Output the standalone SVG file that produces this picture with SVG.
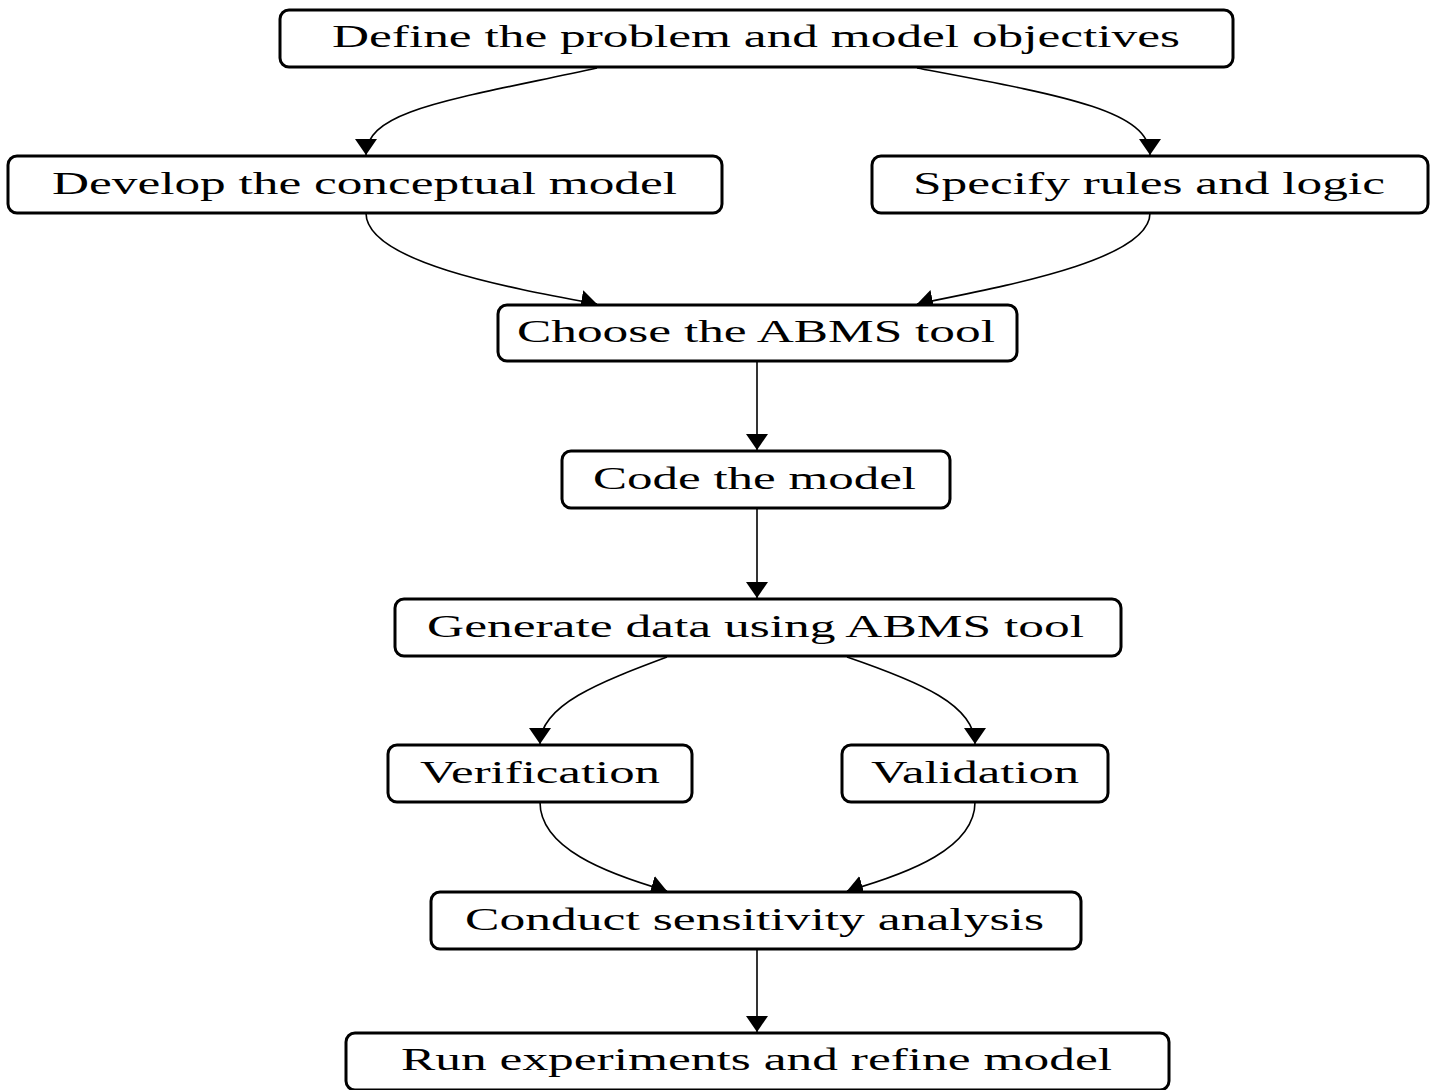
<svg xmlns="http://www.w3.org/2000/svg" width="1435" height="1090" viewBox="0 0 1435 1090">
<style>
.box{fill:#fff;stroke:#000;stroke-width:3}
.lbl{font-family:"Liberation Serif","Times New Roman",serif;font-size:31px;fill:#000}
.edge{fill:none;stroke:#000;stroke-width:1.6}
</style>
<defs>
<marker id="arr" markerUnits="userSpaceOnUse" viewBox="0 0 16 22" refX="16" refY="11" markerWidth="16" markerHeight="22" orient="auto">
<path d="M0,0 L16,11 L0,22 Z" fill="#000"/>
</marker>
</defs>
<rect width="1435" height="1090" fill="#fff"/>
<g id="connectors">
<path class="edge" marker-end="url(#arr)" d="M597,68 C450,100 366,110 366,155"/>
<path class="edge" marker-end="url(#arr)" d="M917,68 C1060,95 1150,110 1150,155"/>
<path class="edge" marker-end="url(#arr)" d="M366,213 C366,262 510,288 597,304"/>
<path class="edge" marker-end="url(#arr)" d="M1150,213 C1150,260 1005,286 917,304"/>
<path class="edge" marker-end="url(#arr)" d="M757,361 L757,450"/>
<path class="edge" marker-end="url(#arr)" d="M757,508 L757,598"/>
<path class="edge" marker-end="url(#arr)" d="M667,657 C600,682 540,705 540,744"/>
<path class="edge" marker-end="url(#arr)" d="M847,657 C920,682 975,705 975,744"/>
<path class="edge" marker-end="url(#arr)" d="M540,802 C540,848 605,873 667,891"/>
<path class="edge" marker-end="url(#arr)" d="M975,802 C975,848 910,873 847,891"/>
<path class="edge" marker-end="url(#arr)" d="M757,949 L757,1032"/>
</g>
<g id="n1"><rect class="box" x="280" y="10" width="953" height="57" rx="9"/><text class="lbl" x="332" y="47" textLength="848" lengthAdjust="spacingAndGlyphs">Define the problem and model objectives</text></g>
<g id="n2"><rect class="box" x="8" y="156" width="714" height="57" rx="9"/><text class="lbl" x="52" y="194" textLength="625" lengthAdjust="spacingAndGlyphs">Develop the conceptual model</text></g>
<g id="n3"><rect class="box" x="872" y="156" width="556" height="57" rx="9"/><text class="lbl" x="913" y="194" textLength="472" lengthAdjust="spacingAndGlyphs">Specify rules and logic</text></g>
<g id="n4"><rect class="box" x="498" y="305" width="519" height="56" rx="9"/><text class="lbl" x="517" y="342" textLength="478" lengthAdjust="spacingAndGlyphs">Choose the ABMS tool</text></g>
<g id="n5"><rect class="box" x="562" y="451" width="388" height="57" rx="9"/><text class="lbl" x="593" y="489" textLength="323" lengthAdjust="spacingAndGlyphs">Code the model</text></g>
<g id="n6"><rect class="box" x="395" y="599" width="726" height="57" rx="9"/><text class="lbl" x="427" y="637" textLength="657" lengthAdjust="spacingAndGlyphs">Generate data using ABMS tool</text></g>
<g id="n7"><rect class="box" x="388" y="745" width="304" height="57" rx="9"/><text class="lbl" x="420" y="783" textLength="240" lengthAdjust="spacingAndGlyphs">Verification</text></g>
<g id="n8"><rect class="box" x="842" y="745" width="266" height="57" rx="9"/><text class="lbl" x="871" y="783" textLength="208" lengthAdjust="spacingAndGlyphs">Validation</text></g>
<g id="n9"><rect class="box" x="431" y="892" width="650" height="57" rx="9"/><text class="lbl" x="465" y="930" textLength="579" lengthAdjust="spacingAndGlyphs">Conduct sensitivity analysis</text></g>
<g id="n10"><rect class="box" x="346" y="1033" width="823" height="57" rx="9"/><text class="lbl" x="401" y="1070" textLength="711" lengthAdjust="spacingAndGlyphs">Run experiments and refine model</text></g>
</svg>
